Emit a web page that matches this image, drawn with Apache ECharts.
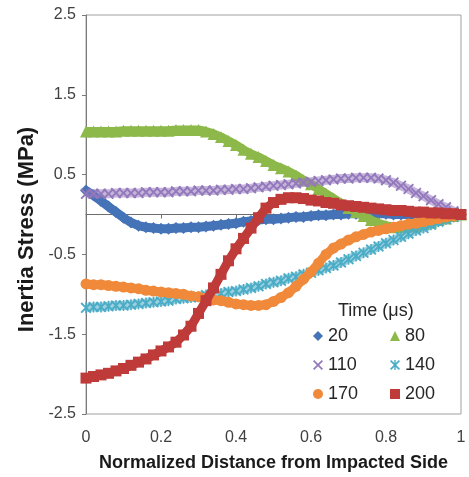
<!DOCTYPE html>
<html>
<head>
<meta charset="utf-8">
<script src="https://cdn.jsdelivr.net/npm/echarts@6/dist/echarts.min.js"></script>
<style>
html,body{margin:0;padding:0;background:#fff;}
#c{width:469px;height:477px;}
</style>
</head>
<body>
<div id="c"></div>
<script>
// Normalized distance (x) values
var xValues = [0,0.02,0.04,0.06,0.08,0.10,0.12,0.14,0.16,0.18,0.20,0.22,0.24,0.26,0.28,0.30,0.32,0.34,0.36,0.38,0.40,0.42,0.44,0.46,0.48,0.50,0.52,0.54,0.56,0.58,0.60,0.62,0.64,0.66,0.68,0.70,0.72,0.74,0.76,0.78,0.80,0.82,0.84,0.86,0.88,0.90,0.92,0.94,0.96,0.98,1.00];

var s20  = [0.30,0.24,0.17,0.10,0.03,-0.04,-0.10,-0.14,-0.16,-0.17,-0.18,-0.18,-0.17,-0.17,-0.16,-0.16,-0.15,-0.14,-0.13,-0.12,-0.11,-0.09,-0.08,-0.07,-0.06,-0.06,-0.05,-0.04,-0.03,-0.03,-0.02,-0.01,-0.01,0.00,0.00,0.01,0.01,0.01,0.01,0.01,0.01,0.00,0.00,0.00,0.00,0.00,0.00,0.00,0.00,0.00,0.00];
var s80  = [1.04,1.04,1.04,1.04,1.04,1.05,1.05,1.05,1.05,1.05,1.05,1.05,1.06,1.06,1.06,1.06,1.04,1.01,0.97,0.92,0.87,0.81,0.76,0.72,0.67,0.62,0.58,0.54,0.49,0.43,0.38,0.32,0.26,0.20,0.14,0.08,0.03,-0.02,-0.07,-0.11,-0.14,-0.16,-0.16,-0.15,-0.14,-0.12,-0.10,-0.07,-0.05,-0.02,0.00];
var s110 = [0.26,0.26,0.26,0.26,0.27,0.27,0.27,0.27,0.28,0.28,0.28,0.28,0.29,0.29,0.29,0.30,0.30,0.30,0.31,0.31,0.32,0.32,0.33,0.34,0.35,0.36,0.37,0.38,0.39,0.40,0.41,0.42,0.43,0.44,0.45,0.45,0.46,0.46,0.46,0.45,0.43,0.40,0.36,0.32,0.27,0.23,0.18,0.13,0.09,0.04,0.00];
var s140 = [-1.17,-1.16,-1.16,-1.15,-1.14,-1.14,-1.13,-1.12,-1.11,-1.10,-1.09,-1.08,-1.06,-1.05,-1.04,-1.03,-1.01,-1.00,-0.99,-0.97,-0.96,-0.94,-0.92,-0.90,-0.87,-0.85,-0.83,-0.80,-0.78,-0.75,-0.73,-0.70,-0.67,-0.64,-0.60,-0.56,-0.52,-0.48,-0.44,-0.40,-0.36,-0.32,-0.28,-0.24,-0.20,-0.17,-0.13,-0.09,-0.06,-0.03,0.00];
var s170 = [-0.87,-0.88,-0.88,-0.89,-0.90,-0.91,-0.92,-0.93,-0.95,-0.96,-0.97,-0.98,-0.99,-1.00,-1.02,-1.03,-1.05,-1.07,-1.08,-1.10,-1.12,-1.13,-1.14,-1.14,-1.13,-1.09,-1.04,-0.98,-0.90,-0.81,-0.72,-0.61,-0.50,-0.42,-0.37,-0.32,-0.28,-0.25,-0.22,-0.20,-0.18,-0.16,-0.14,-0.12,-0.11,-0.09,-0.07,-0.05,-0.03,-0.02,0.00];
var s200 = [-2.05,-2.03,-2.01,-1.99,-1.96,-1.93,-1.89,-1.85,-1.81,-1.76,-1.71,-1.66,-1.60,-1.51,-1.40,-1.24,-1.08,-0.92,-0.75,-0.58,-0.43,-0.30,-0.17,-0.04,0.08,0.15,0.19,0.21,0.21,0.20,0.18,0.17,0.15,0.14,0.12,0.11,0.10,0.09,0.08,0.07,0.06,0.05,0.05,0.04,0.03,0.03,0.02,0.02,0.01,0.01,0.00];

var seriesNames = ['20','80','110','140','170','200'];
var yTicks = [-2.5,-1.5,-0.5,0.5,1.5,2.5];
var xTicks = [0,0.2,0.4,0.6,0.8,1];

var X_PATH = 'path://M1.2,0 L5,3.8 L8.8,0 L10,1.2 L6.2,5 L10,8.8 L8.8,10 L5,6.2 L1.2,10 L0,8.8 L3.8,5 L0,1.2 Z';
var AST_PATH = 'path://M1.2,0 L5,3.8 L8.8,0 L10,1.2 L6.2,5 L10,8.8 L8.8,10 L5,6.2 L1.2,10 L0,8.8 L3.8,5 L0,1.2 Z M4.3,0 L5.7,0 L5.7,10 L4.3,10 Z';

var colors = ['#4573B8','#8DB84A','#9478BC','#4BACC6','#F08A3A','#BE3B3A'];
var symbols = ['diamond','triangle',X_PATH,AST_PATH,'circle','rect'];
var symSizes = [12,12,11,11,11,11];
var lineOpacity = [1,1,0.55,0.55,1,1];
var values = [s20,s80,s110,s140,s170,s200];

function pairs(ys){ return xValues.map(function(x,i){ return [x, ys[i]]; }); }

var FONT = '"Liberation Sans", Arial, sans-serif';

var series = seriesNames.map(function(n,i){
  return {
    name: n, type: 'line', data: pairs(values[i]),
    xAxisIndex: 0, yAxisIndex: 0,
    symbol: symbols[i], symbolSize: symSizes[i], showAllSymbol: true,
    itemStyle: {color: colors[i]},
    lineStyle: {color: colors[i], width: 9, opacity: lineOpacity[i]},
    smooth: false, animation: false, z: 2 + i
  };
});

var chart = echarts.init(document.getElementById('c'), null, {renderer:'canvas'});
chart.setOption({
  animation: false,
  backgroundColor: '#ffffff',
  grid: {left: 86, right: 8, top: 15, bottom: 57, show: true, borderColor: '#a0a0a0', borderWidth: 1, backgroundColor: 'transparent'},
  title: {text: 'Time (\u03bcs)', left: 338, top: 302, padding: 0,
    textStyle: {fontFamily: FONT, fontSize: 18, fontWeight: 'normal', color: '#262626'}},
  legend: [
    {data: [{name:'20', icon:'diamond'},{name:'110', icon:X_PATH},{name:'170', icon:'circle'}],
     orient: 'vertical', left: 313, top: 326, itemWidth: 10, itemHeight: 10, itemGap: 9, padding: 0,
     textStyle: {fontFamily: FONT, fontSize: 18, color: '#262626', lineHeight: 20}},
    {data: [{name:'80', icon:'triangle'},{name:'140', icon:AST_PATH},{name:'200', icon:'rect'}],
     orient: 'vertical', left: 390, top: 326, itemWidth: 10, itemHeight: 10, itemGap: 9, padding: 0,
     textStyle: {fontFamily: FONT, fontSize: 18, color: '#262626', lineHeight: 20}}
  ],
  xAxis: [
    {type: 'value', min: 0, max: 1, interval: 0.2, position: 'bottom',
     name: 'Normalized Distance from Impacted Side', nameLocation: 'middle', nameGap: 40,
     nameTextStyle: {fontFamily: FONT, fontSize: 18, fontWeight: 'bold', color: '#1a1a1a'},
     axisLine: {show: false, onZero: false}, axisTick: {show: false}, splitLine: {show: false},
     axisLabel: {fontFamily: FONT, fontSize: 16, color: '#404040', margin: 16,
       formatter: function(v){ return xTicks.indexOf(Math.round(v*10)/10) >= 0 ? String(Math.round(v*10)/10) : ''; }}},
    {type: 'value', min: 0, max: 1, interval: 0.2, position: 'top',
     axisLine: {show: true, onZero: true, lineStyle: {color: '#6e6e6e', width: 1}},
     axisTick: {show: true, inside: true, length: 4, lineStyle: {color: '#6e6e6e'}},
     axisLabel: {show: false}, splitLine: {show: false}}
  ],
  yAxis: [
    {type: 'value', min: -2.5, max: 2.5, interval: 1, position: 'left',
     name: 'Inertia Stress (MPa)', nameLocation: 'middle', nameGap: 47,
     nameTextStyle: {fontFamily: FONT, fontSize: 22, fontWeight: 'bold', color: '#1a1a1a', padding: [0, 30, 0, 0]},
     axisLine: {show: true, onZero: false, lineStyle: {color: '#7a7a7a', width: 1}},
     axisTick: {show: true, length: 4, lineStyle: {color: '#7a7a7a'}},
     splitLine: {show: false},
     axisLabel: {fontFamily: FONT, fontSize: 16, color: '#404040', margin: 10,
       formatter: function(v){ return (Math.round(v*10)/10).toFixed(1); }}}
  ],
  series: series
});
</script>
</body>
</html>
